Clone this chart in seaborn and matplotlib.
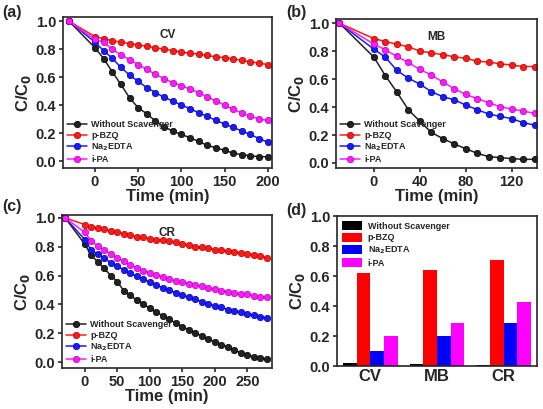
import matplotlib
matplotlib.use("Agg")
import matplotlib.pyplot as plt
import numpy as np
import pandas as pd
import seaborn as sns

scavengers = ["Without Scavenger", "p-BZQ", "Na$_2$EDTA", "i-PA"]
colors = ["#222222", "#ff1a1a", "#1a1aff", "#ff1aff"]
bar_colors = ["#000000", "#ff0000", "#0000ff", "#ff00ff"]
edge_colors = ["#000000", "#b30000", "#0000a0", "#b000b0"]

# (a) CV, sampled at -30 (dark) and every 10 min from 0 to 200
time_cv = [-30] + list(range(0, 201, 10))
cv_none = [1.0, 0.81, 0.733, 0.638, 0.548, 0.452, 0.381, 0.338, 0.286, 0.245, 0.214,
           0.19, 0.167, 0.14, 0.112, 0.095, 0.076, 0.057, 0.045, 0.038, 0.031, 0.031]
cv_bzq = [1.0, 0.89, 0.875, 0.86, 0.85, 0.84, 0.83, 0.82, 0.81, 0.80, 0.79,
          0.78, 0.77, 0.765, 0.755, 0.745, 0.74, 0.73, 0.72, 0.71, 0.70, 0.69]
cv_edta = [1.0, 0.85, 0.79, 0.735, 0.67, 0.615, 0.57, 0.525, 0.49, 0.455, 0.43,
           0.40, 0.375, 0.345, 0.32, 0.29, 0.265, 0.24, 0.215, 0.19, 0.16, 0.135]
cv_ipa = [1.0, 0.87, 0.85, 0.80, 0.76, 0.725, 0.69, 0.655, 0.62, 0.59, 0.56,
          0.54, 0.515, 0.49, 0.46, 0.43, 0.40, 0.37, 0.345, 0.32, 0.30, 0.29]

# (b) MB
time_mb = [-30] + list(range(0, 141, 10))
mb_none = [1.0, 0.757, 0.624, 0.507, 0.381, 0.298, 0.219, 0.174, 0.136, 0.102,
           0.069, 0.045, 0.038, 0.031, 0.026, 0.026]
mb_bzq = [1.0, 0.89, 0.869, 0.85, 0.831, 0.80, 0.788, 0.774, 0.76, 0.748,
          0.729, 0.721, 0.71, 0.70, 0.69, 0.69]
mb_edta = [1.0, 0.814, 0.757, 0.662, 0.607, 0.564, 0.51, 0.474, 0.452, 0.414,
           0.381, 0.35, 0.333, 0.317, 0.288, 0.271]
mb_ipa = [1.0, 0.85, 0.81, 0.762, 0.719, 0.669, 0.629, 0.579, 0.531, 0.49,
          0.46, 0.431, 0.402, 0.386, 0.371, 0.355]

# (c) CR
time_cr = [-30] + list(range(0, 281, 10))
cr_none = [1.0, 0.818, 0.74, 0.696, 0.65, 0.60, 0.558, 0.495, 0.463, 0.43, 0.403,
           0.373, 0.348, 0.322, 0.297, 0.272, 0.247, 0.224, 0.205, 0.182, 0.159,
           0.143, 0.122, 0.106, 0.085, 0.065, 0.05, 0.037, 0.028, 0.02]
cr_bzq = [1.0, 0.954, 0.94, 0.93, 0.92, 0.91, 0.90, 0.89, 0.88, 0.87, 0.865,
          0.855, 0.85, 0.845, 0.84, 0.83, 0.82, 0.81, 0.80, 0.795, 0.79,
          0.78, 0.775, 0.77, 0.765, 0.755, 0.75, 0.745, 0.735, 0.725]
cr_edta = [1.0, 0.85, 0.775, 0.75, 0.72, 0.69, 0.665, 0.64, 0.615, 0.595, 0.575,
           0.555, 0.535, 0.515, 0.50, 0.48, 0.465, 0.45, 0.435, 0.42, 0.405,
           0.39, 0.38, 0.365, 0.355, 0.345, 0.335, 0.325, 0.315, 0.305]
cr_ipa = [1.0, 0.90, 0.84, 0.805, 0.775, 0.75, 0.725, 0.70, 0.675, 0.655, 0.635,
          0.62, 0.605, 0.59, 0.575, 0.565, 0.555, 0.545, 0.535, 0.525, 0.515,
          0.505, 0.495, 0.49, 0.48, 0.475, 0.47, 0.46, 0.455, 0.45]

# (d) final C/C0
dyes = ["CV", "MB", "CR"]
final_none = [0.02, 0.015, 0.01]
final_bzq = [0.62, 0.64, 0.71]
final_edta = [0.10, 0.20, 0.285]
final_ipa = [0.20, 0.29, 0.43]

sns.set_style("ticks")
plt.rcParams["font.family"] = ["Liberation Sans", "DejaVu Sans"]
plt.rcParams["font.weight"] = "bold"
plt.rcParams["axes.labelweight"] = "bold"
plt.rcParams["axes.linewidth"] = 1.2
plt.rcParams["mathtext.default"] = "bf"

TICK_SIZE = 10.5
LABEL_SIZE = 12
LEGEND_SIZE = 6.5


def long_frame(times, series):
    frames = []
    for name, vals in zip(scavengers, series):
        frames.append(pd.DataFrame({"time": times, "c": vals, "scavenger": name}))
    return pd.concat(frames, ignore_index=True)


def style_y(ax):
    ax.set_yticks([0.0, 0.2, 0.4, 0.6, 0.8, 1.0])
    ax.yaxis.set_major_formatter(matplotlib.ticker.FormatStrFormatter("%.1f"))
    ax.tick_params(axis="both", labelsize=TICK_SIZE, width=1.2, length=3, pad=2)
    ax.set_ylabel("C/C$_0$", fontsize=LABEL_SIZE, labelpad=2)


def kinetics(ax, times, series, title, xlim, ylim, xticks):
    data = long_frame(times, series)
    for name, col, ec in zip(scavengers, colors, edge_colors):
        sns.lineplot(data=data[data["scavenger"] == name], x="time", y="c",
                     color=col, marker="o", markersize=4.6, markeredgecolor=ec,
                     markeredgewidth=0.5, linewidth=1.1, label=name, ax=ax)
    ax.set_xlim(*xlim)
    ax.set_ylim(*ylim)
    ax.set_xticks(xticks)
    style_y(ax)
    ax.set_xlabel("Time (min)", fontsize=LABEL_SIZE, labelpad=0)
    ax.text(0.5, 0.92, title, transform=ax.transAxes, ha="center", va="top",
            fontsize=8.5, fontweight="bold")
    ax.legend(loc="lower left", frameon=False, handlelength=2.2,
              borderaxespad=0.05, labelspacing=0.2, handletextpad=0.5,
              prop={"weight": "bold", "size": LEGEND_SIZE})


fig = plt.figure(figsize=(5.43, 4.09), dpi=100)
ax_a = fig.add_axes([63 / 543, 1 - 168 / 409, 209 / 543, 151 / 409])
ax_b = fig.add_axes([336 / 543, 1 - 168 / 409, 201 / 543, 149 / 409])
ax_c = fig.add_axes([62 / 543, 1 - 368 / 409, 210 / 543, 153 / 409])
ax_d = fig.add_axes([337 / 543, 1 - 366 / 409, 200 / 543, 150 / 409])

kinetics(ax_a, time_cv, [cv_none, cv_bzq, cv_edta, cv_ipa], "CV",
         (-37, 205), (-0.05, 1.03), [0, 50, 100, 150, 200])
kinetics(ax_b, time_mb, [mb_none, mb_bzq, mb_edta, mb_ipa], "MB",
         (-33, 142), (-0.036, 1.03), [0, 40, 80, 120])
kinetics(ax_c, time_cr, [cr_none, cr_bzq, cr_edta, cr_ipa], "CR",
         (-35, 288), (-0.04, 1.02), [0, 50, 100, 150, 200, 250])

bars = pd.DataFrame({
    "dye": dyes * 4,
    "c": final_none + final_bzq + final_edta + final_ipa,
    "scavenger": [s for s in scavengers for _ in dyes],
})
sns.barplot(data=bars, x="dye", y="c", hue="scavenger", palette=bar_colors,
            saturation=1, width=0.82, edgecolor="none", ax=ax_d)
ax_d.set_ylim(0, 1.0)
ax_d.set_xlim(-0.5, 2.5)
style_y(ax_d)
ax_d.tick_params(axis="x", length=0, labelsize=LABEL_SIZE)
ax_d.set_xlabel("")
ax_d.legend(loc="upper left", frameon=False, handlelength=2.2, handleheight=1.1,
            borderaxespad=0.2, labelspacing=0.25, handletextpad=0.6,
            prop={"weight": "bold", "size": LEGEND_SIZE})

for ax in (ax_a, ax_b, ax_c, ax_d):
    for side in ("top", "right"):
        ax.spines[side].set_visible(True)

fig.text(2 / 543, 1 - 12 / 409, "(a)", fontsize=11.5, fontweight="bold", va="center")
fig.text(286 / 543, 1 - 12 / 409, "(b)", fontsize=11.5, fontweight="bold", va="center")
fig.text(2 / 543, 1 - 206 / 409, "(c)", fontsize=11.5, fontweight="bold", va="center")
fig.text(286 / 543, 1 - 210 / 409, "(d)", fontsize=11.5, fontweight="bold", va="center")

fig.savefig("out.png", dpi=100)
